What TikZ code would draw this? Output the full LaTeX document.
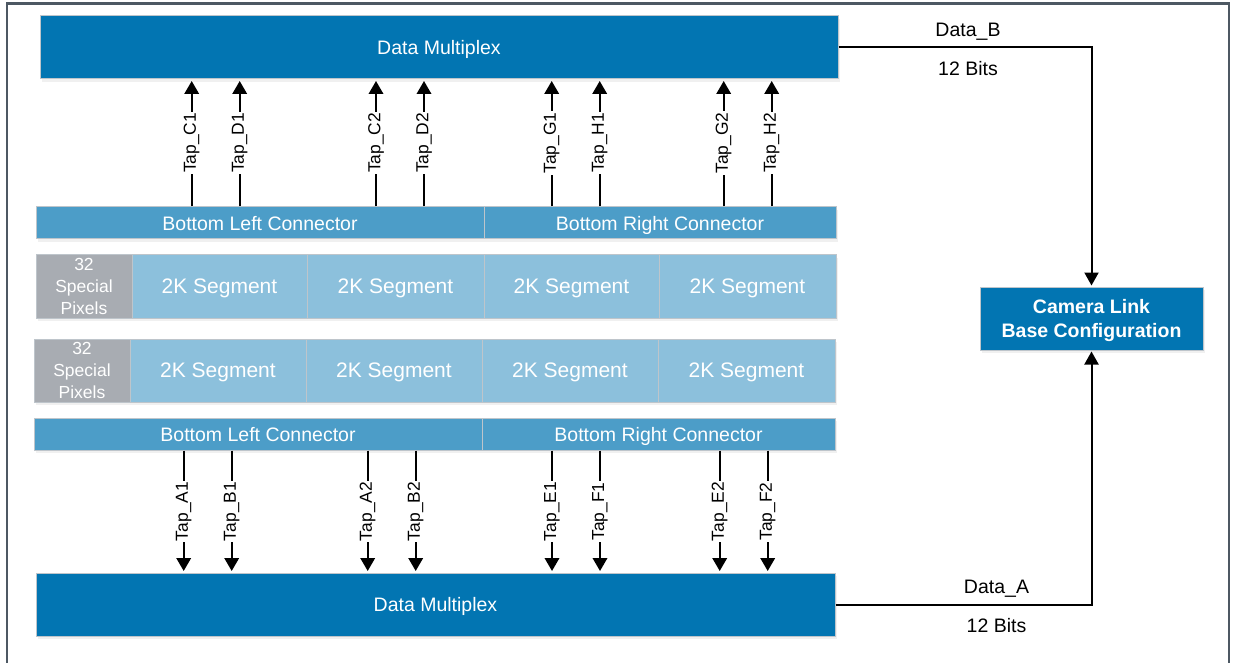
\documentclass[tikz,border=0pt]{standalone}
\usepackage{fontspec}
\setmainfont{Liberation Sans}
\usetikzlibrary{arrows.meta,shadows}
\definecolor{darkblue}{RGB}{2,117,178}
\definecolor{connblue}{RGB}{76,157,200}
\definecolor{segblue}{RGB}{140,192,220}
\definecolor{specgrey}{RGB}{168,172,178}
\definecolor{boxline}{RGB}{190,197,203}
\definecolor{framecol}{RGB}{77,88,99}
\tikzset{
  blk/.style={draw=boxline, line width=1pt, inner sep=0pt, text=white, align=center, text depth=0pt,
    drop shadow={opacity=0.12, shadow xshift=1.5pt, shadow yshift=-3pt}},
  mux/.style={blk, fill=darkblue, minimum height=63pt, font=\fontsize{19.5}{24}\selectfont},
  conn/.style={blk, fill=connblue, minimum height=32pt, font=\fontsize{19.5}{24}\selectfont},
  seg/.style={blk, fill=segblue, minimum height=63pt, font=\fontsize{21}{24}\selectfont},
  spec/.style={blk, fill=specgrey, minimum height=63pt, minimum width=96pt, font=\fontsize{17.5}{21.7}\selectfont},
  cam/.style={blk, fill=darkblue, minimum height=63pt, minimum width=223pt, font=\bfseries\fontsize{19.5}{24}\selectfont},
  tap/.style={line width=2pt, -{Triangle[width=14.5pt,length=13pt]}, shorten >=1.5pt},
  taplbl/.style={midway, rotate=90, fill=white, inner sep=1.2pt, font=\fontsize{17.4}{20}\selectfont},
  datalink/.style={line width=2pt, -{Triangle[width=14pt,length=13pt]}, shorten >=1pt},
  datalbl/.style={font=\fontsize{19.5}{24}\selectfont, inner sep=0pt, text depth=0pt},
  framel/.style={draw=framecol, line width=2.5pt}
}
\begin{document}
\begin{tikzpicture}[x=1pt,y=-1pt]
\useasboundingbox (0,0) rectangle (1237,663);
\draw[framel] (7,663) -- (7,3.5) -- (1229,3.5) -- (1229,663);

% top multiplexer
\node[mux, minimum width=798pt] (muxT) at (439,47.5) {Data Multiplex};
% top connectors
\node[conn, minimum width=448pt] (connTL) at (260,223) {Bottom Left Connector};
\node[conn, minimum width=352pt] (connTR) at (660,223) {Bottom Right Connector};
% row 1
\node[spec] (sp1) at (84,286.5) {32\\Special\\Pixels};
\node[seg, minimum width=175pt] (s11) at (219.5,286.5) {2K Segment};
\node[seg, minimum width=177pt] (s12) at (395.5,286.5) {2K Segment};
\node[seg, minimum width=175pt] (s13) at (571.5,286.5) {2K Segment};
\node[seg, minimum width=177pt] (s14) at (747.5,286.5) {2K Segment};
% row 2
\node[spec] (sp2) at (82,370.5) {32\\Special\\Pixels};
\node[seg, minimum width=176pt] (s21) at (218,370.5) {2K Segment};
\node[seg, minimum width=176pt] (s22) at (394,370.5) {2K Segment};
\node[seg, minimum width=176pt] (s23) at (570,370.5) {2K Segment};
\node[seg, minimum width=177pt] (s24) at (746.5,370.5) {2K Segment};
% bottom connectors
\node[conn, minimum width=448pt] (connBL) at (258,434) {Bottom Left Connector};
\node[conn, minimum width=353pt] (connBR) at (658.5,434) {Bottom Right Connector};
% bottom multiplexer
\node[mux, minimum width=799pt] (muxB) at (435.5,604.5) {Data Multiplex};
% camera link
\node[cam] (cam) at (1091.5,318.5) {Camera Link\\Base Configuration};

% tap x positions
\coordinate (tC1) at (191.7,0);
\coordinate (tD1) at (239.7,0);
\coordinate (tC2) at (376,0);
\coordinate (tD2) at (424,0);
\coordinate (tG1) at (551.7,0);
\coordinate (tH1) at (599.7,0);
\coordinate (tG2) at (723.7,0);
\coordinate (tH2) at (771.7,0);
\coordinate (tA1) at (183.7,0);
\coordinate (tB1) at (231.7,0);
\coordinate (tA2) at (367.7,0);
\coordinate (tB2) at (415.7,0);
\coordinate (tE1) at (552,0);
\coordinate (tF1) at (600,0);
\coordinate (tE2) at (719.7,0);
\coordinate (tF2) at (767.7,0);

% upward taps
\draw[tap] (connTL.north -| tC1) -- (muxT.south -| tC1) node[taplbl] {Tap\_C1};
\draw[tap] (connTL.north -| tD1) -- (muxT.south -| tD1) node[taplbl] {Tap\_D1};
\draw[tap] (connTL.north -| tC2) -- (muxT.south -| tC2) node[taplbl] {Tap\_C2};
\draw[tap] (connTL.north -| tD2) -- (muxT.south -| tD2) node[taplbl] {Tap\_D2};
\draw[tap] (connTR.north -| tG1) -- (muxT.south -| tG1) node[taplbl] {Tap\_G1};
\draw[tap] (connTR.north -| tH1) -- (muxT.south -| tH1) node[taplbl] {Tap\_H1};
\draw[tap] (connTR.north -| tG2) -- (muxT.south -| tG2) node[taplbl] {Tap\_G2};
\draw[tap] (connTR.north -| tH2) -- (muxT.south -| tH2) node[taplbl] {Tap\_H2};

% downward taps
\draw[tap] (connBL.south -| tA1) -- (muxB.north -| tA1) node[taplbl] {Tap\_A1};
\draw[tap] (connBL.south -| tB1) -- (muxB.north -| tB1) node[taplbl] {Tap\_B1};
\draw[tap] (connBL.south -| tA2) -- (muxB.north -| tA2) node[taplbl] {Tap\_A2};
\draw[tap] (connBL.south -| tB2) -- (muxB.north -| tB2) node[taplbl] {Tap\_B2};
\draw[tap] (connBR.south -| tE1) -- (muxB.north -| tE1) node[taplbl] {Tap\_E1};
\draw[tap] (connBR.south -| tF1) -- (muxB.north -| tF1) node[taplbl] {Tap\_F1};
\draw[tap] (connBR.south -| tE2) -- (muxB.north -| tE2) node[taplbl] {Tap\_E2};
\draw[tap] (connBR.south -| tF2) -- (muxB.north -| tF2) node[taplbl] {Tap\_F2};

% data links
\draw[datalink] (muxT.east) -- (muxT.east -| cam.north) -- (cam.north);
\draw[datalink] (muxB.east) -- (muxB.east -| cam.south) -- (cam.south);

\node[datalbl] (lblB) at (968,30) {Data\_B};
\node[datalbl] (bitsB) at (968,68) {12 Bits};
\node[datalbl] (lblA) at (996.5,586.5) {Data\_A};
\node[datalbl] (bitsA) at (996.5,625) {12 Bits};
\end{tikzpicture}
\end{document}
